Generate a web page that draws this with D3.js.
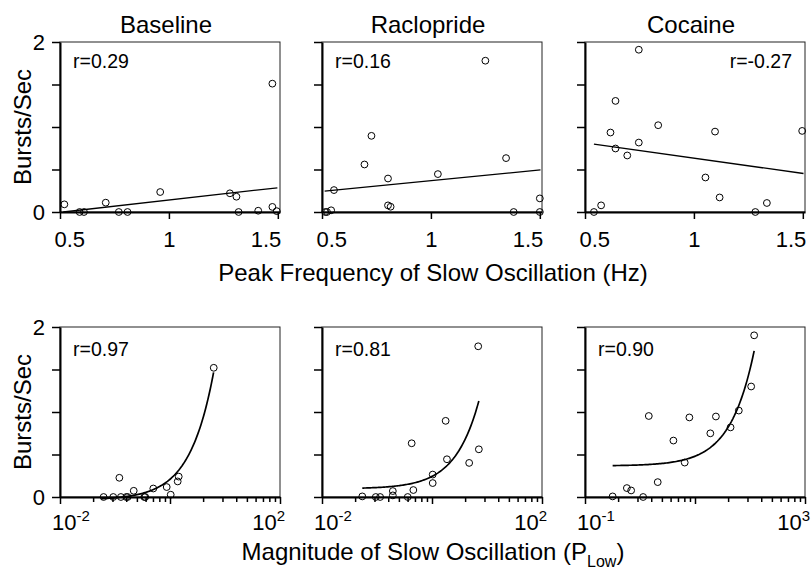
<!DOCTYPE html>
<html>
<head>
<meta charset="utf-8">
<script src="https://cdn.jsdelivr.net/npm/d3@7"></script>
<style>
body { margin: 0; background: #fff; }
text { font-family: "Liberation Sans", Arial, Helvetica, sans-serif; fill: #000; }
</style>
</head>
<body>
<svg width="812" height="570"></svg>
<script>
var titles = ["Baseline", "Raclopride", "Cocaine"];
var rTop = ["r=0.29", "r=0.16", "r=-0.27"];
var rBottom = ["r=0.97", "r=0.81", "r=0.90"];

// top row: peak frequency (Hz) vs bursts/sec
var baseFreq = [0.52, 0.59, 0.61, 0.71, 0.77, 0.81, 0.96, 1.28, 1.31, 1.32, 1.41, 1.475, 1.475, 1.495];
var baseFreqRate = [0.09, 0, 0, 0.11, 0, 0, 0.235, 0.22, 0.18, 0, 0.015, 1.51, 0.06, 0.01];
var racFreq = [0.515, 0.523, 0.542, 0.555, 0.695, 0.727, 0.803, 0.803, 0.815, 1.032, 1.25, 1.345, 1.38, 1.5, 1.5];
var racFreqRate = [0, 0, 0.02, 0.258, 0.559, 0.896, 0.394, 0.078, 0.062, 0.446, 1.78, 0.634, 0, 0.16, 0];
var cocFreq = [0.541, 0.574, 0.617, 0.64, 0.64, 0.694, 0.747, 0.747, 0.836, 1.053, 1.097, 1.118, 1.282, 1.335, 1.497];
var cocFreqRate = [0, 0.078, 0.935, 1.307, 0.747, 0.665, 1.909, 0.817, 1.021, 0.406, 0.946, 0.171, 0, 0.106, 0.954];

// bottom row: magnitude of slow oscillation (P_Low) vs bursts/sec
var baseMag = [0.062, 0.093, 0.128, 0.16, 0.17, 0.12, 0.219, 0.341, 0.355, 0.497, 0.871, 1.03, 1.38, 1.44, 6.24];
var baseMagRate = [0, 0, 0, 0, 0, 0.226, 0.073, 0, 0, 0.1, 0.117, 0.027, 0.183, 0.24, 1.52];
var racMag = [0.054, 0.095, 0.114, 0.194, 0.194, 0.362, 0.458, 0.427, 1.03, 1.03, 1.77, 1.87, 4.74, 7.11, 6.92];
var racMagRate = [0.007, 0, 0, 0.07, 0.019, 0, 0.082, 0.632, 0.264, 0.164, 0.896, 0.444, 0.401, 0.561, 1.773];
var cocMag = [0.318, 0.577, 0.69, 1.14, 2.1, 1.445, 4.05, 6.5, 7.9, 19, 24, 44.3, 62.6, 105, 119];
var cocMagRate = [0.007, 0.105, 0.077, 0, 0.175, 0.953, 0.664, 0.405, 0.936, 0.749, 0.947, 0.819, 1.017, 1.3, 1.902];

// fitted lines
var freqFitX = [[0.515, 1.498], [0.512, 1.503], [0.541, 1.503]];
var freqFitY = [[0, 0.285], [0.246, 0.496], [0.798, 0.453]];
var magFitRange = [[0.056, 6.2], [0.054, 7.11], [0.318, 119]];
var magFitCoef = [[-0.033, 0.2417], [0.097, 0.1453], [0.366, 0.01137]];

// ticks
var yTicks = [0, 0.5, 1, 1.5, 2];
var yLabelled = [0, 2];
var freqTicks = [0.5, 1, 1.5];
var magDomains = [[0.01, 100], [0.01, 100], [0.1, 1000]];
var magTickExp = [["-2", "2"], ["-2", "2"], ["-1", "3"]];
var squareSteps = [1, 4, 9, 16, 25, 36, 49, 64, 81];

var freqX = [baseFreq, racFreq, cocFreq];
var freqY = [baseFreqRate, racFreqRate, cocFreqRate];
var magX = [baseMag, racMag, cocMag];
var magY = [baseMagRate, racMagRate, cocMagRate];

var svg = d3.select("svg");
var lefts = [60, 322, 585];
var tops = [42, 327];
var pw = 220, ph = 170;

var y = d3.scaleLinear().domain([0, 2]).range([ph, 0]);

function styleAxis(ax) {
    ax.attr("font-family", null).attr("font-size", null);
    ax.select(".domain").attr("stroke-width", 2);
    ax.selectAll(".tick line").attr("stroke-width", 1.5);
    ax.selectAll(".tick text").style("font-size", "22px");
}

function drawPanel(row, col) {
    var g = svg.append("g").attr("transform", "translate(" + lefts[col] + "," + tops[row] + ")");
    var x, xs, ys;
    if (row == 0) {
        x = d3.scaleLinear().domain([0.5, 1.51]).range([0, pw]);
        xs = freqX[col]; ys = freqY[col];
    } else {
        x = d3.scaleLog().domain(magDomains[col]).range([0, pw]);
        xs = magX[col]; ys = magY[col];
    }

    g.append("rect")
        .attr("width", pw).attr("height", ph)
        .attr("fill", "none").attr("stroke", "#222").attr("stroke-width", 1);

    var ya = g.append("g").call(d3.axisLeft(y).tickValues(yTicks).tickSize(8).tickSizeOuter(0).tickPadding(7)
        .tickFormat(function(d) { return (col == 0 && yLabelled.indexOf(d) >= 0) ? String(d) : ""; }));
    styleAxis(ya);
    ya.selectAll(".tick text").attr("dy", "0.36em");

    if (row == 0) {
        var xa = g.append("g").attr("transform", "translate(0," + ph + ")")
            .call(d3.axisBottom(x).tickValues(freqTicks).tickSize(7).tickSizeOuter(0)
                .tickFormat(function(d) { return String(d); }));
        styleAxis(xa);
        xa.selectAll(".tick text").attr("y", 35).attr("dy", null)
            .attr("text-anchor", function(d, i) { return i == 0 ? "start" : (i == freqTicks.length - 1 ? "end" : "middle"); })
            .attr("dx", function(d, i) { return i == 0 ? -6 : (i == freqTicks.length - 1 ? 3 : 0); });
        g.append("line")
            .attr("x1", x(freqFitX[col][0])).attr("y1", y(freqFitY[col][0]))
            .attr("x2", x(freqFitX[col][1])).attr("y2", y(freqFitY[col][1]))
            .attr("stroke", "#000").attr("stroke-width", 1.3);
    } else {
        var d0 = magDomains[col][0];
        var tv = [];
        [d0, d0 * 100].forEach(function(b) {
            squareSteps.forEach(function(k) { tv.push(b * k); });
        });
        tv.push(magDomains[col][1]);
        var xa = g.append("g").attr("transform", "translate(0," + ph + ")")
            .call(d3.axisBottom(x).tickValues(tv).tickSizeOuter(0).tickFormat(""));
        styleAxis(xa);
        xa.selectAll(".tick line").attr("y2", function(d, i) {
            return (i == 0 || i == 9 || i == tv.length - 1) ? 7 : 5;
        });
        var lab = xa.append("g");
        var t1 = lab.append("text").attr("x", -8).attr("y", 33).attr("text-anchor", "start").style("font-size", "22px");
        t1.append("tspan").text("10");
        t1.append("tspan").attr("dy", -9).style("font-size", "15px").text(magTickExp[col][0]);
        var t2 = lab.append("text").attr("x", pw + 5).attr("y", 33).attr("text-anchor", "end").style("font-size", "22px");
        t2.append("tspan").text("10");
        t2.append("tspan").attr("dy", -9).style("font-size", "15px").text(magTickExp[col][1]);

        var r = magFitRange[col], c = magFitCoef[col];
        var lx = d3.scaleLog().domain(r).range([0, 1]);
        var pts = d3.range(0, 1.0001, 0.01).map(function(t) {
            var v = lx.invert(t);
            return [x(v), y(c[0] + c[1] * v)];
        });
        g.append("path").attr("d", d3.line()(pts))
            .attr("fill", "none").attr("stroke", "#000").attr("stroke-width", 1.7);
    }

    g.selectAll("circle.pt")
        .data(xs)
        .enter()
        .append("circle")
        .attr("class", "pt")
        .attr("cx", function(d) { return x(d); })
        .attr("cy", function(d, i) { return y(ys[i]); })
        .attr("r", 3.4)
        .attr("fill", "none")
        .attr("stroke", "#000")
        .attr("stroke-width", 1);

    var rl = row == 0 ? rTop[col] : rBottom[col];
    var right = (row == 0 && col == 2);
    g.append("text")
        .attr("x", right ? pw - 13 : 13)
        .attr("y", row == 0 ? 26 : 29)
        .attr("text-anchor", right ? "end" : "start")
        .style("font-size", "19.5px")
        .text(rl);

    if (row == 0) {
        g.append("text").attr("x", pw / 2 - 4).attr("y", -9)
            .attr("text-anchor", "middle").style("font-size", "24px").text(titles[col]);
    }
}

for (var row = 0; row < 2; row++) {
    for (var col = 0; col < 3; col++) drawPanel(row, col);
}

// axis titles
[0, 1].forEach(function(row) {
    svg.append("text")
        .attr("transform", "translate(31," + (tops[row] + ph / 2) + ") rotate(-90)")
        .attr("text-anchor", "middle").style("font-size", "24px").text("Bursts/Sec");
});
svg.append("text").attr("x", 433).attr("y", 281).attr("text-anchor", "middle")
    .style("font-size", "24px").text("Peak Frequency of Slow Oscillation (Hz)");
var bl = svg.append("text").attr("x", 433).attr("y", 560).attr("text-anchor", "middle").style("font-size", "24px");
bl.append("tspan").text("Magnitude of Slow Oscillation (P");
bl.append("tspan").attr("dy", 7).style("font-size", "16px").text("Low");
bl.append("tspan").attr("dy", -7).text(")");
</script>
</body>
</html>
